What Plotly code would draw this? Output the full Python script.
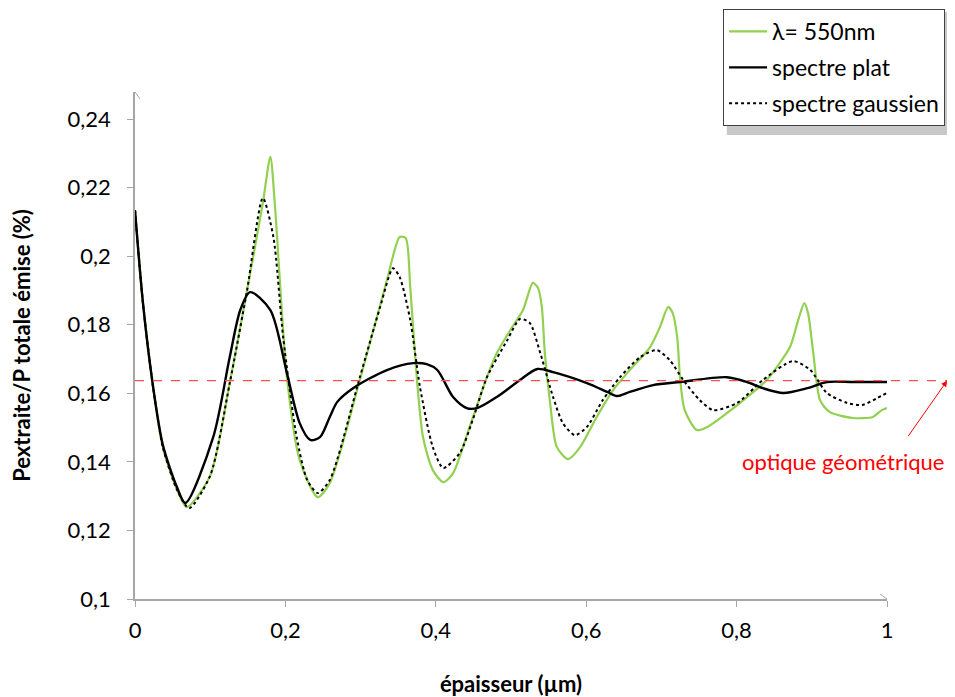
import plotly.graph_objects as go

# ---- data ----
green_x = [0, 0.0106, 0.024, 0.037, 0.056, 0.069, 0.1, 0.126, 0.149, 0.170, 0.180, 0.186, 0.202, 0.219, 0.243, 0.259,
           0.299, 0.335, 0.352, 0.360, 0.366, 0.375, 0.383, 0.396, 0.410, 0.423, 0.445, 0.468, 0.481, 0.499, 0.516,
           0.529, 0.536, 0.541, 0.545, 0.552, 0.561, 0.576, 0.592, 0.614, 0.636, 0.658, 0.685, 0.698, 0.709, 0.715,
           0.721, 0.725, 0.731, 0.747, 0.761, 0.787, 0.814, 0.840, 0.871, 0.882, 0.890, 0.895, 0.902, 0.911, 0.924,
           0.955, 0.981, 0.993, 1.0]
green_y = [0.2134, 0.1863, 0.1618, 0.1443, 0.1318, 0.1268, 0.136, 0.163, 0.190, 0.2155, 0.229, 0.215, 0.1647, 0.1405,
           0.1297, 0.1338, 0.1639, 0.193, 0.2056, 0.2053, 0.191, 0.1639, 0.1472, 0.1376, 0.1341, 0.1367, 0.1502,
           0.1647, 0.1717, 0.1784, 0.1843, 0.1922, 0.1907, 0.1852, 0.1717, 0.1572, 0.1443, 0.1408, 0.1443, 0.1531,
           0.161, 0.1668, 0.1735, 0.1793, 0.1852, 0.1834, 0.1764, 0.1639, 0.1551, 0.1493, 0.1502, 0.1542, 0.1589,
           0.1639, 0.1735, 0.1814, 0.1863, 0.1834, 0.1717, 0.158, 0.1545, 0.1528, 0.1531, 0.1551, 0.1557]

flat_x = [0, 0.0106, 0.024, 0.037, 0.056, 0.067, 0.104, 0.126, 0.140, 0.153, 0.180, 0.202, 0.219, 0.233, 0.246,
          0.259, 0.269, 0.290, 0.335, 0.370, 0.388, 0.402, 0.423, 0.441, 0.455, 0.481, 0.512, 0.535, 0.556, 0.601,
          0.628, 0.641, 0.658, 0.689, 0.725, 0.787, 0.814, 0.835, 0.862, 0.894, 0.920, 0.955, 1.0]
flat_y = [0.2134, 0.1863, 0.162, 0.145, 0.1325, 0.128, 0.1472, 0.1706, 0.1843, 0.1895, 0.1843, 0.1659, 0.1513,
          0.1464, 0.1472, 0.1531, 0.1575, 0.1615, 0.1668, 0.1688, 0.1685, 0.1668, 0.1589, 0.1557, 0.1557, 0.1589,
          0.1639, 0.1671, 0.1662, 0.163, 0.1604, 0.1592, 0.1604, 0.1624, 0.1633, 0.1647, 0.1633, 0.1615, 0.1601,
          0.1615, 0.1633, 0.1633, 0.1633]

gauss_x = [0, 0.0106, 0.024, 0.037, 0.056, 0.072, 0.1, 0.126, 0.149, 0.170, 0.184, 0.197, 0.215, 0.229, 0.243,
           0.259, 0.299, 0.326, 0.343, 0.352, 0.366, 0.379, 0.396, 0.410, 0.432, 0.449, 0.468, 0.495, 0.512, 0.525,
           0.539, 0.556, 0.569, 0.585, 0.601, 0.622, 0.645, 0.672, 0.694, 0.711, 0.729, 0.751, 0.769, 0.801, 0.835,
           0.875, 0.898, 0.920, 0.947, 0.967, 0.987, 1.0]
gauss_y = [0.2134, 0.1863, 0.1618, 0.1443, 0.1318, 0.1265, 0.136, 0.163, 0.190, 0.217, 0.2056, 0.1764, 0.1472,
           0.1347, 0.1309, 0.1347, 0.1647, 0.1852, 0.1965, 0.1939, 0.1814, 0.1618, 0.1443, 0.1382, 0.1426, 0.1522,
           0.1647, 0.1755, 0.1817, 0.1805, 0.1717, 0.1589, 0.1513, 0.1478, 0.1502, 0.158, 0.1647, 0.1706, 0.1726,
           0.1697, 0.1639, 0.158, 0.1551, 0.1572, 0.1639, 0.1694, 0.1668, 0.1601, 0.1572, 0.1566, 0.1586, 0.1601]

geo_optics = 0.1637

x_tickvals = [0, 0.2, 0.4, 0.6, 0.8, 1]
x_ticktext = ["0", "0,2", "0,4", "0,6", "0,8", "1"]
y_tickvals = [0.1, 0.12, 0.14, 0.16, 0.18, 0.2, 0.22, 0.24]
y_ticktext = ["0,1", "0,12", "0,14", "0,16", "0,18", "0,2", "0,22", "0,24"]

FONT = "Lato"
AXIS_COLOR = "#a6a6a6"
TICK_SIZE = 22

fig = go.Figure()
fig.add_trace(go.Scatter(x=green_x, y=green_y, mode="lines", name="λ= 550nm", legendgroup="a",
                         line=dict(color="#92d050", width=2.2, shape="spline", smoothing=0.7)))
fig.add_trace(go.Scatter(x=flat_x, y=flat_y, mode="lines", name="spectre plat", legendgroup="b",
                         line=dict(color="black", width=2.4, shape="spline", smoothing=0.8)))
fig.add_trace(go.Scatter(x=gauss_x, y=gauss_y, mode="lines", name="spectre gaussien", legendgroup="c",
                         line=dict(color="black", width=2, dash="dot", shape="spline", smoothing=0.7)))

y_top = 0.2479
x_end = 1.08

# legend shadow
fig.add_shape(type="rect", xref="paper", yref="paper", x0=0.787, x1=1.092, y0=0.915, y1=1.158,
              fillcolor="#c8c8c8", line=dict(width=0), layer="below")

# reference line (geometric optics)
fig.add_shape(type="line", xref="paper", yref="y", x0=0, x1=x_end, y0=geo_optics, y1=geo_optics,
              line=dict(color="#ff5050", width=1.3, dash="dash"), layer="above")
fig.add_annotation(xref="paper", yref="y", x=x_end, y=geo_optics,
                   ax=-40, ay=57, text="", showarrow=True, arrowhead=2, arrowsize=1.2,
                   arrowwidth=1, arrowcolor="#ff0000")
fig.add_annotation(xref="paper", yref="y", x=0.9415, y=0.1402, xanchor="center", yanchor="middle",
                   text="optique géométrique",
                   showarrow=False, font=dict(family=FONT, size=22, color="#ff0000"))

# axis arrowheads
fig.add_shape(type="path", xref="x", yref="y", xsizemode="pixel", ysizemode="pixel",
              xanchor=1, yanchor=0.1, path="M -7,-5 L 0,0 L -7,5",
              line=dict(color=AXIS_COLOR, width=1))
fig.add_shape(type="path", xref="x", yref="y", xsizemode="pixel", ysizemode="pixel",
              xanchor=0, yanchor=y_top, path="M -5,-7 L 0,0 L 5,-7",
              line=dict(color=AXIS_COLOR, width=1))

fig.update_layout(
    width=947, height=689,
    margin=dict(l=127, r=68, t=84, b=98, autoexpand=False),
    paper_bgcolor="white", plot_bgcolor="white",
    font=dict(family=FONT, size=TICK_SIZE, color="black"),
    showlegend=True,
    legend=dict(x=0.782, y=1.1637, xanchor="left", yanchor="top",
                bordercolor="#404040", borderwidth=1, bgcolor="white",
                font=dict(family=FONT, size=23, color="black"),
                tracegroupgap=3, itemwidth=38),
    xaxis=dict(range=[0, 1], tickvals=x_tickvals, ticktext=x_ticktext, automargin=False,
               showgrid=False, zeroline=False, showline=True, linecolor=AXIS_COLOR, linewidth=1.5,
               ticks="outside", ticklen=6, tickcolor=AXIS_COLOR, ticklabelstandoff=5,
               tickfont=dict(family=FONT, size=TICK_SIZE, color="black"),
               title=dict(text="<b>épaisseur (µm)</b>", standoff=45,
                          font=dict(family=FONT, size=22, color="black"))),
    yaxis=dict(range=[0.1, y_top], tickvals=y_tickvals, ticktext=y_ticktext, automargin=False,
               showgrid=False, zeroline=False, showline=True, linecolor=AXIS_COLOR, linewidth=1.5,
               ticks="outside", ticklen=6, tickcolor=AXIS_COLOR, ticklabelstandoff=12,
               tickfont=dict(family=FONT, size=TICK_SIZE, color="black"),
               title=dict(text="<b>Pextraite/P totale émise (%)</b>", standoff=37,
                          font=dict(family=FONT, size=22, color="black"))),
)

fig.write_html("out.html")
